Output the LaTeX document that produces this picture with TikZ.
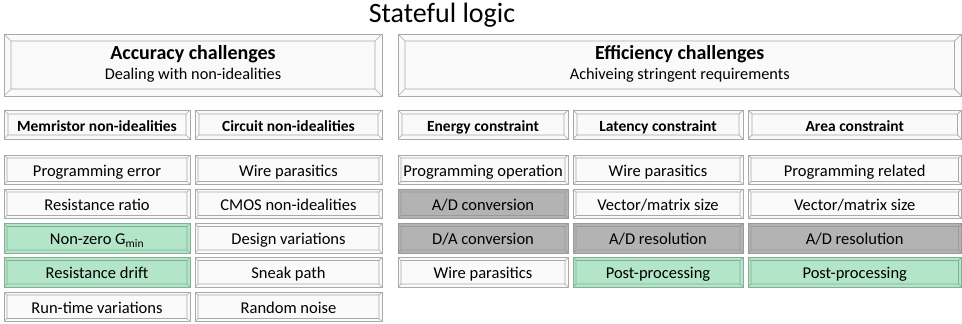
\documentclass[tikz,border=0pt]{standalone}
\usepackage{fontspec}
\setmainfont{Carlito}
\definecolor{edgegray}{HTML}{A9A9A9}
\definecolor{boxwhite}{HTML}{FAFAFA}
\definecolor{mint}{HTML}{B3E6C9}
\definecolor{mintedge}{HTML}{86AD95}
\definecolor{shade}{HTML}{B3B3B3}
\definecolor{shadeedge}{HTML}{999999}
\tikzset{
  % raised button: outer frame, inner face and the four corner mitres
  bevel/.style={rectangle, inner sep=0pt, outer sep=0pt, draw=edgegray, line width=0.7pt,
    fill=boxwhite, text=black,
    path picture={
      \coordinate (bnw) at (path picture bounding box.north west);
      \coordinate (bse) at (path picture bounding box.south east);
      \coordinate (bne) at (path picture bounding box.north east);
      \coordinate (bsw) at (path picture bounding box.south west);
      \draw[draw=\bevcol, line width=0.7pt]
        ([shift={(#1pt,-#1pt)}]bnw) rectangle ([shift={(-#1pt,#1pt)}]bse)
        (bnw) -- ([shift={(#1pt,-#1pt)}]bnw)
        (bne) -- ([shift={(-#1pt,-#1pt)}]bne)
        (bsw) -- ([shift={(#1pt,#1pt)}]bsw)
        (bse) -- ([shift={(-#1pt,#1pt)}]bse);
    }},
  bevel/.default=3,
  plain/.style={fill=boxwhite, draw=edgegray},
  green/.style={fill=mint, draw=mintedge},
  grey/.style={fill=shade, draw=shadeedge},
  % fixed text height/depth keep every baseline at the same place in its box
  celltext/.style={font=\fontsize{16.5}{18}\selectfont, text height=14pt, text depth=1.5pt},
  headtext/.style={font=\fontsize{15.5}{18}\selectfont\bfseries, text height=14pt, text depth=0pt},
}
\def\bevcol{edgegray}
% \cellbox{name}{x1}{y1}{x2}{y2}{inset}{style}{text}
\newcommand\cellbox[8]{%
  \node[bevel=#6, #7, minimum width={#4-#2}, minimum height={#5-#3}]
    (#1) at ({(#2+#4)/2},{(#3+#5)/2}) {#8};}
% two-line group heading: bold title over a plain subtitle, baselines 20pt apart
\newcommand\grouphead[2]{%
  {\fontsize{16.3}{20}\selectfont
   \begin{tabular}{@{}c@{}}{\fontsize{20}{20}\selectfont\bfseries #1}\\ #2\end{tabular}}}
\begin{document}
\begin{tikzpicture}[x=1pt, y=-1pt]
\useasboundingbox (0,0) rectangle (962,324);

\node[font=\fontsize{28}{30}\selectfont] (title) at (442,15) {Stateful logic};

% top-level groups
\cellbox{acc}{4}{34}{382}{96}{7}{plain}{\grouphead{Accuracy challenges}{Dealing with non-idealities}}
\cellbox{eff}{398}{34}{961.5}{96}{7}{plain}{\grouphead{Efficiency challenges}{Achiveing stringent requirements}}

% category headers
\cellbox{memh}{4}{110}{190}{139}{4}{plain,headtext}{Memristor non-idealities}
\cellbox{cirh}{195}{110}{382}{139}{4}{plain,headtext}{Circuit non-idealities}
\cellbox{enh}{398}{110}{568}{139}{4}{plain,headtext}{Energy constraint}
\cellbox{lath}{573}{110}{743}{139}{4}{plain,headtext}{Latency constraint}
\cellbox{areah}{748}{110}{961.5}{139}{4}{plain,headtext}{Area constraint}

% memristor non-idealities
\cellbox{m1}{4}{155}{190}{184.5}{3}{plain,celltext}{Programming error}
\cellbox{m2}{4}{189}{190}{218.5}{3}{plain,celltext}{Resistance ratio}
{\def\bevcol{mintedge}
\cellbox{m3}{4}{223.5}{190}{253}{3}{green,celltext}{Non-zero G\textsubscript{min}}
\cellbox{m4}{4}{257.5}{190}{287}{3}{green,celltext}{Resistance drift}}
\cellbox{m5}{4}{292}{190}{321.5}{3}{plain,celltext}{Run-time variations}

% circuit non-idealities
\cellbox{c1}{195}{155}{382}{184.5}{3}{plain,celltext}{Wire parasitics}
\cellbox{c2}{195}{189}{382}{218.5}{3}{plain,celltext}{CMOS non-idealities}
\cellbox{c3}{195}{223.5}{382}{253}{3}{plain,celltext}{Design variations}
\cellbox{c4}{195}{257.5}{382}{287}{3}{plain,celltext}{Sneak path}
\cellbox{c5}{195}{292}{382}{321.5}{3}{plain,celltext}{Random noise}

% energy constraint
\cellbox{e1}{398}{155}{568}{184.5}{3}{plain,celltext}{Programming operation}
{\def\bevcol{shadeedge}
\cellbox{e2}{398}{189}{568}{218.5}{3}{grey,celltext}{A/D conversion}
\cellbox{e3}{398}{223.5}{568}{253}{3}{grey,celltext}{D/A conversion}}
\cellbox{e4}{398}{257.5}{568}{287}{3}{plain,celltext}{Wire parasitics}

% latency constraint
\cellbox{l1}{573}{155}{743}{184.5}{3}{plain,celltext}{Wire parasitics}
\cellbox{l2}{573}{189}{743}{218.5}{3}{plain,celltext}{Vector/matrix size}
{\def\bevcol{shadeedge}
\cellbox{l3}{573}{223.5}{743}{253}{3}{grey,celltext}{A/D resolution}}
{\def\bevcol{mintedge}
\cellbox{l4}{573}{257.5}{743}{287}{3}{green,celltext}{Post-processing}}

% area constraint
\cellbox{a1}{748}{155}{961.5}{184.5}{3}{plain,celltext}{Programming related}
\cellbox{a2}{748}{189}{961.5}{218.5}{3}{plain,celltext}{Vector/matrix size}
{\def\bevcol{shadeedge}
\cellbox{a3}{748}{223.5}{961.5}{253}{3}{grey,celltext}{A/D resolution}}
{\def\bevcol{mintedge}
\cellbox{a4}{748}{257.5}{961.5}{287}{3}{green,celltext}{Post-processing}}
\end{tikzpicture}
\end{document}
